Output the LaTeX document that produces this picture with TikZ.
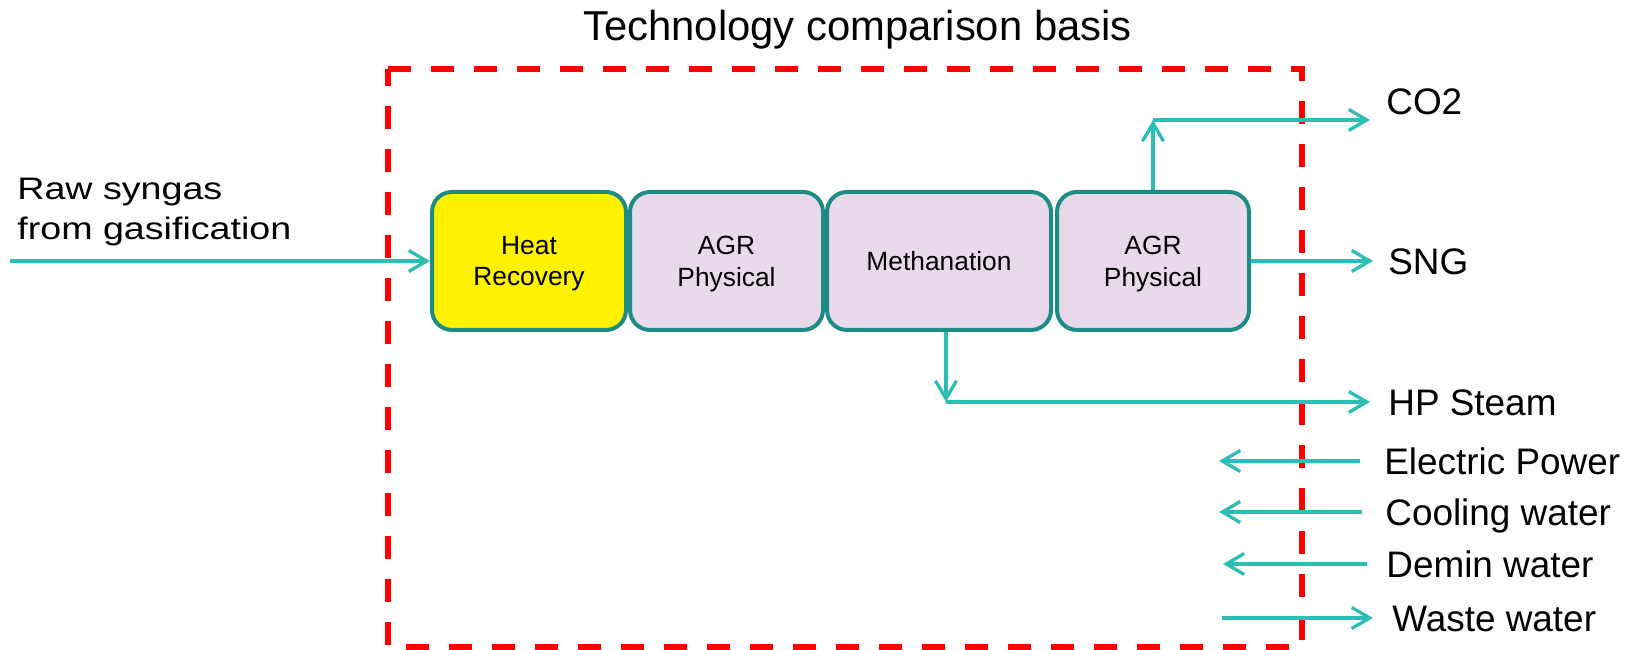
\documentclass[tikz,border=0pt]{standalone}
\usepackage{fontspec}
\setmainfont{Liberation Sans}
\newfontfamily\widefont[FakeStretch=1.21]{Liberation Sans}
\usepackage{xcolor}
\usetikzlibrary{positioning}
\usetikzlibrary{arrows.meta}
\definecolor{boxline}{RGB}{30,140,132}
\definecolor{flow}{RGB}{46,189,180}
\definecolor{lavender}{RGB}{232,218,234}

\begin{document}
\begin{tikzpicture}[
unit/.style={draw=boxline,line width=0.08cm,rounded corners=0.4cm,fill=lavender,minimum height=2.76cm,text depth=0pt,align=center,font=\fontsize{15pt}{18pt}\selectfont},
stream/.style={draw=flow,line width=0.066cm,-{Straight Barb[length=0.36cm,width=0.42cm]}},
lbl/.style={anchor=west,inner sep=0pt,text height=15pt,text depth=0pt,font=\fontsize{21pt}{24pt}\selectfont}]
\useasboundingbox(0,0)rectangle(32.74,13);
\node[inner sep=0pt,text height=17pt,text depth=0pt,font=\fontsize{23.8pt}{28pt}\selectfont](title)at(17.15,12.48){Technology comparison basis};
\draw[red,line width=0.12cm,dash pattern=on 0.46cm off 0.4cm](7.76,11.62)--(26.04,11.62)--(26.04,0.06)--(7.76,0.06)--cycle;
\node[unit,fill=yellow,minimum width=3.88cm](heat)at(10.58,7.78){Heat\\Recovery};
\node[unit,minimum width=3.86cm,right=0cm of heat](agr1){AGR\\Physical};
\node[unit,minimum width=4.48cm,right=0cm of agr1](meth){Methanation};
\node[unit,minimum width=3.84cm,right=0.04cm of meth](agr2){AGR\\Physical};
\node[anchor=north west,inner sep=0pt,align=left,font=\widefont\fontsize{17.7pt}{22.7pt}\selectfont](raw)at(0.34,9.44){Raw syngas\\from gasification};
\node[lbl](co2)at(27.72,10.98){CO2};
\node[lbl](sng)at(27.76,7.78){SNG};
\node[lbl](hp)at(27.76,4.96){HP Steam};
\node[lbl](elec)at(27.68,3.78){Electric Power};
\node[lbl](cool)at(27.70,2.76){Cooling water};
\node[lbl](demin)at(27.72,1.72){Demin water};
\node[lbl](waste)at(27.84,0.64){Waste water};
\coordinate(feed)at(0.2,7.78);
\coordinate(co2top)at(agr2.north|-0,10.6);
\coordinate(co2end)at(27.4,10.6);
\coordinate(hpcorner)at(18.92,4.96);
\coordinate(elin)at(24.38,3.78);
\coordinate(coolin)at(24.38,2.76);
\coordinate(demin-in)at(24.46,1.72);
\coordinate(wastein)at(24.44,0.64);
\draw[stream](feed)--(heat.west);
\draw[stream](agr2.north)--(co2top);
\draw[stream](co2top)--(co2end);
\draw[stream,shorten >=0.30cm](agr2.east)--(sng.west);
\draw[stream](meth.south-|hpcorner)--(hpcorner);
\draw[stream,shorten >=0.36cm](hpcorner)--(hp.west);
\draw[stream,shorten <=0.48cm](elec.west)--(elin);
\draw[stream,shorten <=0.46cm](cool.west)--(coolin);
\draw[stream,shorten <=0.38cm](demin.west)--(demin-in);
\draw[stream,shorten >=0.38cm](wastein)--(waste.west);
\end{tikzpicture}
\end{document}
